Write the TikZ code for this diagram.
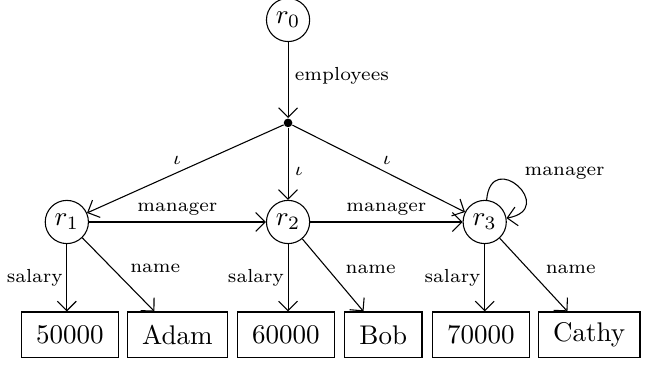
\documentclass[tikz,border=0pt]{standalone}
\usetikzlibrary{arrows.meta}
\begin{document}
\begin{tikzpicture}[scale=1,
  >={Straight Barb[length=3.5pt,width=7pt]},
  main node/.style={circle,draw,minimum size=16pt,inner sep=1pt},
  val node/.style={rectangle,draw,minimum height=17pt,inner xsep=5.5pt},
  dot node/.style={circle,fill,inner sep=0pt,minimum size=3.2pt}, ]

  \useasboundingbox (0,0) rectangle (8.41,-4.74);

    \node[main node] (r0) at (3.75,-0.26) {$r_0$};
    \node[dot node] (e) at (3.75,-1.60) {};
     \node[main node] (r1) at (0.87,-2.89) {$r_1$};
     \node[main node] (r2) at (3.75,-2.89) {$r_2$};
     \node[main node] (r3) at (6.31,-2.89) {$r_3$};

  \node[val node] (s1) at (0.91,-4.36) {50000};
  \node[val node] (n1) at (2.31,-4.36) {Adam};
  \node[val node] (s2) at (3.72,-4.36) {60000};
  \node[val node] (n2) at (4.99,-4.36) {Bob};
  \node[val node] (s3) at (6.26,-4.36) {70000};
  \node[val node] (n3) at (7.67,-4.36) {Cathy};

  \path[->,every node/.style={font=\scriptsize}]
  (r0) edge node[right=-1pt,pos=.45]{employees} (e)
  (e) edge node[above left=-2pt]{$\iota$} (r1)
  (e) edge node[right=-1pt,pos=.6]{$\iota$} (r2)
  (e) edge node[above right=-2pt]{$\iota$} (r3)
  (r1) edge node[above=-1pt]{manager} (r2)
  (r2) edge node[above=-1pt]{manager} (r3)
  (r3) edge[out=85,in=10,looseness=5] node[above right=-1pt,pos=.5]{manager} (r3)
  (r1) edge node[left=-2pt]{salary} (r1 |- s1.north)
  (r1) edge node[right=3pt,pos=.42]{name} (n1)
  (r2) edge node[left=-2pt]{salary} (r2 |- s2.north)
  (r2) edge node[right=3pt,pos=.42]{name} (n2)
  (r3) edge node[left=-2pt]{salary} (r3 |- s3.north)
  (r3) edge node[right=3pt,pos=.42]{name} (n3);
\end{tikzpicture}
\end{document}
